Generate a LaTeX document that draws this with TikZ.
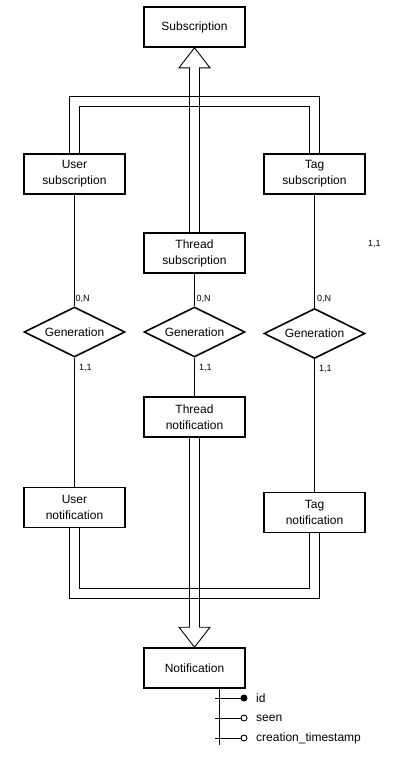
\documentclass[tikz,border=0pt]{standalone}
\usepackage{fontspec}
\setmainfont{Liberation Sans}
\usetikzlibrary{shapes.geometric,calc}
\begin{document}
\begin{tikzpicture}[x=1pt,y=-1pt,
  entity/.style={draw,line width=1.6pt,minimum width=101pt,minimum height=40pt,inner sep=0pt,align=center,font=\fontsize{12}{16}\selectfont},
  rel/.style={draw,diamond,aspect=2,line width=1.6pt,minimum width=101pt,minimum height=50pt,inner sep=0pt,font=\fontsize{12}{16}\selectfont},
  conn/.style={line width=0.9pt},
  card/.style={inner sep=0pt,anchor=west,font=\fontsize{9}{10}\selectfont},
  attrtext/.style={inner sep=0pt,anchor=west,font=\fontsize{12}{14}\selectfont},
  keydot/.style={circle,draw,fill=black,line width=0.9pt,minimum size=6pt,inner sep=0pt},
  attrdot/.style={circle,draw,fill=white,line width=0.9pt,minimum size=6pt,inner sep=0pt}]
\useasboundingbox (0,0) rectangle (406,779);

\node[entity] (sub) at (194.5,27) {Subscription};
\node[entity] (usub) at (74.5,174) {User\\subscription};
\node[entity] (tsub) at (314.5,174) {Tag\\subscription};
\node[entity] (thsub) at (194.5,253) {Thread\\subscription};
\node[rel] (g1) at (74.5,332) {Generation};
\node[rel] (g2) at (194.5,332) {Generation};
\node[rel] (g3) at (314.5,333.5) {Generation};
\node[entity] (thnot) at (194.5,417) {Thread\\notification};
\node[entity] (unot) at (74.5,507.5) {User\\notification};
\node[entity] (tnot) at (314.5,512.5) {Tag\\notification};
\node[entity] (notif) at (194.5,668) {Notification};

% relationship lines
\draw[conn] (usub) -- (g1);
\draw[conn] (g1) -- (unot);
\draw[conn] (thsub) -- (g2);
\draw[conn] (g2) -- (thnot);
\draw[conn] (tsub) -- (g3);
\draw[conn] (g3) -- (tnot);

% cardinalities
\node[card] (c1a) at (75.5,299) {0,N};
\node[card] (c1b) at (79,368) {1,1};
\node[card] (c2a) at (196.5,299) {0,N};
\node[card] (c2b) at (199,368) {1,1};
\node[card] (c3a) at (317,299) {0,N};
\node[card] (c3b) at (319,369) {1,1};
\node[card] (c4) at (368,244) {1,1};

% upper generalisation
\draw[conn] ($(thsub.north)+(-5,0)$) -- ($(sub.south)+(-5,20)$) -- ($(sub.south)+(-15.5,20)$) -- (sub.south) -- ($(sub.south)+(15.5,20)$) -- ($(sub.south)+(5,20)$) -- ($(thsub.north)+(5,0)$);
\draw[conn] ($(usub.north)+(-5,0)$) -- ++(0,-57) -| ($(tsub.north)+(5,0)$);
\draw[conn] ($(usub.north)+(5,0)$) -- ++(0,-47) -| ($(tsub.north)+(-5,0)$);

% lower generalisation
\draw[conn] ($(thnot.south)+(-5,0)$) -- ($(notif.north)+(-5,-20)$) -- ($(notif.north)+(-15.5,-20)$) -- (notif.north) -- ($(notif.north)+(15.5,-20)$) -- ($(notif.north)+(5,-20)$) -- ($(thnot.south)+(5,0)$);
\draw[conn] ($(unot.south)+(-5,0)$) -- ++(0,70) -| ($(tnot.south)+(5,0)$);
\draw[conn] ($(unot.south)+(5,0)$) -- ++(0,60) -| ($(tnot.south)+(-5,0)$);

% attributes
\coordinate (ab) at ($(notif.south)+(24.5,0)$);
\coordinate (ae) at (219,745);
\draw[conn] (ab) -- (ae);
\coordinate (t1) at (215,698);
\coordinate (t2) at (215,718);
\coordinate (t3) at (215,738);
\node[keydot] (d1) at (244,698) {};
\node[attrdot] (d2) at (244,718) {};
\node[attrdot] (d3) at (244,738) {};
\draw[conn] (t1) -- (d1);
\draw[conn] (t2) -- (d2);
\draw[conn] (t3) -- (d3);
\node[attrtext] (a1) at (256,698) {id};
\node[attrtext] (a2) at (256,718) {seen};
\node[attrtext] (a3) at (256,738) {creation\_timestamp};
\end{tikzpicture}
\end{document}
